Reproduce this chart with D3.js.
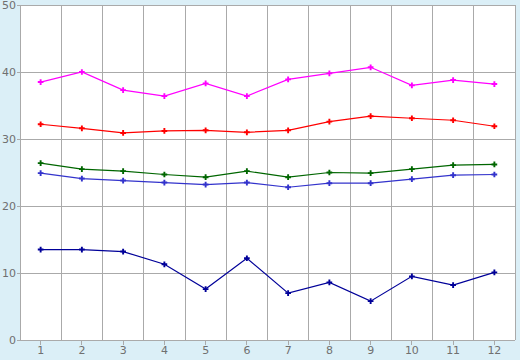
<!DOCTYPE html>
<html><head><meta charset="utf-8">
<script src="https://cdn.jsdelivr.net/npm/d3@7"></script>
<style>html,body{margin:0;padding:0;background:#dbeff7;}svg{display:block;}</style>
</head><body>
<svg id="chart" width="520" height="360"></svg>
<script>
const categories = ["1","2","3","4","5","6","7","8","9","10","11","12"];
const yTicks = [0,10,20,30,40,50];
const magenta = [38.5,40.0,37.3,36.4,38.3,36.4,38.9,39.8,40.7,38.0,38.8,38.2];
const red     = [32.2,31.6,30.9,31.2,31.3,31.0,31.3,32.6,33.4,33.1,32.8,31.9];
const green   = [26.4,25.5,25.2,24.7,24.3,25.2,24.3,25.0,24.9,25.5,26.1,26.2];
const blue    = [24.9,24.1,23.8,23.5,23.2,23.5,22.8,23.4,23.4,24.0,24.6,24.7];
const navy    = [13.5,13.5,13.2,11.3,7.6,12.2,7.0,8.6,5.8,9.5,8.2,10.1];
const seriesList = [
  {values: magenta, color: "#ff00ff"},
  {values: red, color: "#ff0000"},
  {values: green, color: "#006600"},
  {values: blue, color: "#3333cc"},
  {values: navy, color: "#000099"}
];

const svg = d3.select("#chart");
const L = 20, R = 515, T = 5, B = 340;
const x = d3.scaleBand().domain(categories).range([L, R]).padding(0);
const y = d3.scaleLinear().domain([0, 50]).range([B, T]);
const cx = c => x(c) + x.bandwidth() / 2;

svg.append("rect").attr("x", L).attr("y", T).attr("width", R - L).attr("height", B - T).attr("fill", "#ffffff");

const grid = svg.append("g").attr("stroke", "#aaaaaa").attr("stroke-width", 1).attr("shape-rendering", "crispEdges");
categories.forEach(c => {
  grid.append("line").attr("x1", x(c) + x.bandwidth()).attr("x2", x(c) + x.bandwidth()).attr("y1", T).attr("y2", B);
});
yTicks.forEach(t => {
  grid.append("line").attr("x1", L).attr("x2", R).attr("y1", y(t)).attr("y2", y(t));
});
grid.append("line").attr("x1", L).attr("x2", L).attr("y1", T).attr("y2", B);

// axes
const xAxis = d3.axisBottom(x).tickSize(5).tickSizeOuter(0);
const gx = svg.append("g").attr("transform", `translate(0,${B})`).call(xAxis);
gx.select(".domain").remove();
gx.selectAll("line").attr("stroke", "#aaaaaa").attr("shape-rendering", "crispEdges");
gx.selectAll("text").attr("fill", "#707070").attr("font-family", "DejaVu Sans, Verdana, sans-serif").attr("font-size", 11).attr("dy", "0.9em").attr("y", 4);

const yAxis = d3.axisLeft(y).tickValues(yTicks).tickSize(3).tickSizeOuter(0).tickFormat(d3.format("d"));
const gy = svg.append("g").attr("transform", `translate(${L},0)`).call(yAxis);
gy.select(".domain").remove();
gy.selectAll("line").attr("stroke", "#aaaaaa").attr("shape-rendering", "crispEdges");
gy.selectAll("text").attr("fill", "#707070").attr("font-family", "DejaVu Sans, Verdana, sans-serif").attr("font-size", 11).attr("x", -4);

const line = d3.line().x((d, i) => cx(categories[i])).y(d => y(d));
const sym = d3.symbol().type(d3.symbolCross).size(18);
seriesList.forEach(s => {
  svg.append("path").datum(s.values).attr("d", line).attr("fill", "none").attr("stroke", s.color).attr("stroke-width", 1.2);
  svg.append("g").selectAll("path").data(s.values).join("path")
    .attr("d", sym).attr("fill", s.color)
    .attr("transform", (d, i) => `translate(${cx(categories[i])},${y(d)})`);
});
</script>
</body></html>
